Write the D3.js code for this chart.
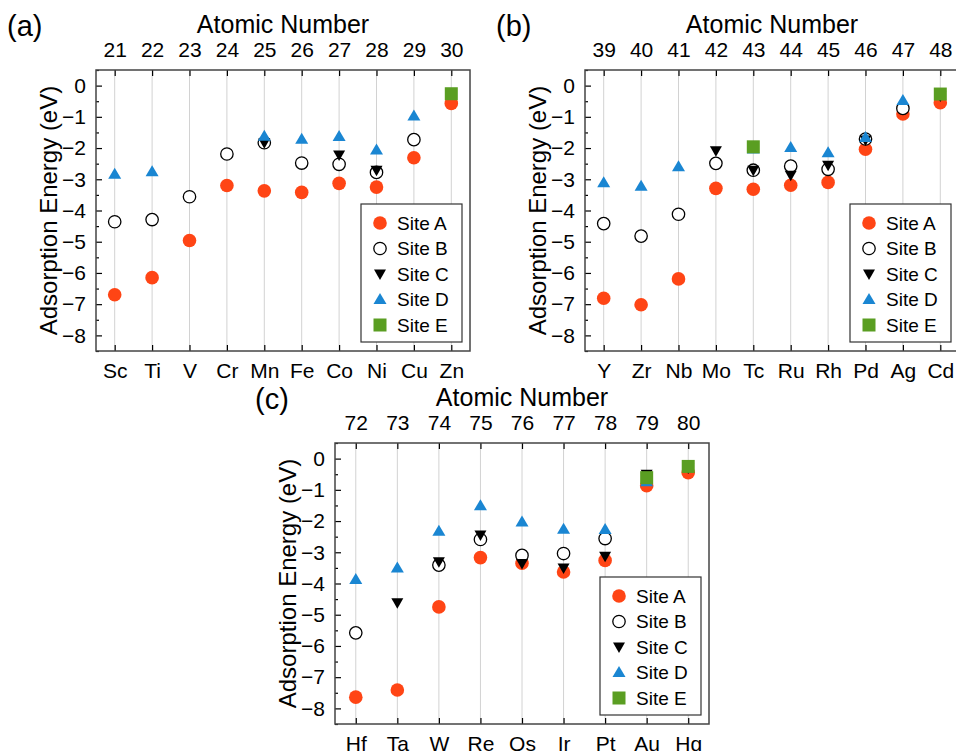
<!DOCTYPE html>
<html>
<head>
<meta charset="utf-8">
<script src="https://cdn.jsdelivr.net/npm/d3@7"></script>
<style>
  body { margin: 0; background: #fff; }
  svg { font-family: Arial, "Liberation Sans", sans-serif; }
</style>
</head>
<body>
<div id="chart"></div>
<script>
/* Adsorption energies of transition metals, three panels */

const sites = ["Site A", "Site B", "Site C", "Site D", "Site E"];
const siteColors = ["#ff4515", "#ffffff", "#000000", "#1a86d2", "#5a9e22"];
const yTicks = [0, -1, -2, -3, -4, -5, -6, -7, -8];

// panel (a) 3d metals
const elementsA = ["Sc", "Ti", "V", "Cr", "Mn", "Fe", "Co", "Ni", "Cu", "Zn"];
const numbersA = [21, 22, 23, 24, 25, 26, 27, 28, 29, 30];
const siteA_a = [-6.70, -6.15, -4.96, -3.20, -3.37, -3.42, -3.13, -3.25, -2.31, -0.57];
const siteB_a = [-4.36, -4.29, -3.56, -2.19, -1.83, -2.48, -2.52, -2.78, -1.73, null];
const siteC_a = [null, null, null, null, -1.83, null, -2.22, -2.71, null, null];
const siteD_a = [-2.84, -2.76, null, null, -1.62, -1.72, -1.63, -2.06, -0.97, null];
const siteE_a = [null, null, null, null, null, null, null, null, null, -0.26];

// panel (b) 4d metals
const elementsB = ["Y", "Zr", "Nb", "Mo", "Tc", "Ru", "Rh", "Pd", "Ag", "Cd"];
const numbersB = [39, 40, 41, 42, 43, 44, 45, 46, 47, 48];
const siteA_b = [-6.81, -7.02, -6.19, -3.29, -3.32, -3.19, -3.10, -2.04, -0.91, -0.55];
const siteB_b = [-4.42, -4.82, -4.12, -2.49, -2.71, -2.58, -2.68, -1.71, -0.73, null];
const siteC_b = [null, null, null, -2.09, -2.71, -2.87, -2.55, -1.74, null, -0.33];
const siteD_b = [-3.11, -3.22, -2.60, null, -2.03, -1.98, -2.15, -1.66, -0.48, null];
const siteE_b = [null, null, null, null, -1.96, null, null, null, null, -0.27];

// panel (c) 5d metals
const elementsC = ["Hf", "Ta", "W", "Re", "Os", "Ir", "Pt", "Au", "Hg"];
const numbersC = [72, 73, 74, 75, 76, 77, 78, 79, 80];
const siteA_c = [-7.64, -7.41, -4.75, -3.17, -3.35, -3.63, -3.26, -0.87, -0.45];
const siteB_c = [-5.58, null, -3.41, -2.59, -3.10, -3.04, -2.56, null, null];
const siteC_c = [null, -4.62, -3.30, -2.45, -3.36, -3.50, -3.13, -0.50, -0.30];
const siteD_c = [-3.87, -3.50, -2.33, -1.51, -2.03, -2.26, -2.27, -0.74, null];
const siteE_c = [null, null, null, null, null, null, null, -0.61, -0.25];

const width = 956, height = 751;

const svg = d3.select("#chart")
    .append("svg")
    .attr("width", width)
    .attr("height", height)
    .attr("viewBox", [0, 0, width, height]);

function marker(g, i, x, y) {
    if (i == 0) {
        g.append("circle").attr("cx", x).attr("cy", y).attr("r", 6.8)
            .attr("fill", siteColors[0]);
    } else if (i == 1) {
        g.append("circle").attr("cx", x).attr("cy", y).attr("r", 6.2)
            .attr("fill", "#fff").attr("stroke", "#000").attr("stroke-width", 1.3);
    } else if (i == 2) {
        g.append("path").attr("transform", `translate(${x},${y})`)
            .attr("d", "M-6,-4.5L6,-4.5L0,6Z").attr("fill", siteColors[2]);
    } else if (i == 3) {
        g.append("path").attr("transform", `translate(${x},${y})`)
            .attr("d", "M-6.5,4.5L6.5,4.5L0,-6.5Z").attr("fill", siteColors[3]);
    } else {
        g.append("rect").attr("x", x - 6.5).attr("y", y - 6.5)
            .attr("width", 13).attr("height", 13).attr("fill", siteColors[4]);
    }
}

function drawPanel(p) {
    const w = 374, h = 281;
    const g = svg.append("g").attr("transform", `translate(${p.left},${p.top})`);

    let x = d3.scaleLinear()
        .domain([p.numbers[0] - 0.5, p.numbers[p.numbers.length - 1] + 0.5])
        .range([0, w]);

    let y = d3.scaleLinear()
        .domain([-8.5, 0.5])
        .range([h, 0]);

    // vertical grid
    g.append("g")
        .selectAll("line")
        .data(p.numbers)
        .join("line")
        .attr("x1", d => x(d)).attr("x2", d => x(d))
        .attr("y1", 0).attr("y2", h)
        .attr("stroke", "#d2d2d2").attr("stroke-width", 1);

    // top axis, atomic number
    let top = g.append("g")
        .call(d3.axisTop(x).tickValues(p.numbers).tickSize(-6).tickPadding(13).tickFormat(d3.format("d")));
    top.selectAll("text").attr("font-size", 21).attr("fill", "#000");

    // bottom axis, element symbols
    let bottom = g.append("g")
        .attr("transform", `translate(0,${h})`)
        .call(d3.axisBottom(x).tickValues(p.numbers).tickSize(-6).tickPadding(12)
            .tickFormat((d, i) => p.elements[i]));
    bottom.selectAll("text").attr("font-size", 21).attr("fill", "#000");

    // left axis with minor ticks
    let minor = d3.range(-8.5, 0.6, 0.5).filter(v => Math.abs(v % 1) > 0.1);
    g.append("g")
        .call(d3.axisLeft(y).tickValues(minor).tickSize(-3).tickFormat(""));
    let left = g.append("g")
        .call(d3.axisLeft(y).tickValues(yTicks).tickSize(-6).tickPadding(10)
            .tickFormat(d => d == 0 ? "0" : "\u2212" + Math.abs(d)));
    left.selectAll("text").attr("font-size", 21).attr("fill", "#000");

    g.selectAll(".domain").remove();
    g.selectAll(".tick line").attr("stroke", "#000").attr("stroke-width", 1.2);

    g.append("rect")
        .attr("width", w).attr("height", h)
        .attr("fill", "none").attr("stroke", "#444").attr("stroke-width", 1.5);

    // points, drawn A to E
    let pts = g.append("g");
    p.series.forEach((vals, i) => {
        vals.forEach((v, j) => {
            if (v != null) marker(pts, i, x(p.numbers[j]), y(v));
        });
    });

    // legend
    let lw = 101, lh = 138;
    let lg = g.append("g").attr("transform", `translate(${w - lw - 8},${h - lh - 9})`);
    lg.append("rect").attr("width", lw).attr("height", lh)
        .attr("fill", "#fff").attr("stroke", "#333").attr("stroke-width", 1.2);
    sites.forEach((s, i) => {
        let yy = 19 + i * 25.5;
        marker(lg, i, 19, yy);
        lg.append("text").attr("x", 36).attr("y", yy)
            .attr("dominant-baseline", "central")
            .attr("font-size", 19)
            .text(s);
    });

    // titles
    g.append("text")
        .attr("x", w / 2).attr("y", -37)
        .attr("text-anchor", "middle")
        .attr("font-size", 25)
        .text("Atomic Number");

    g.append("text")
        .attr("transform", `translate(-39,${h / 2}) rotate(-90)`)
        .attr("text-anchor", "middle")
        .attr("font-size", 24)
        .text("Adsorption Energy (eV)");

    svg.append("text")
        .attr("x", p.labelX).attr("y", p.labelY)
        .attr("font-size", 29)
        .text(p.label);
}

drawPanel({ left: 96, top: 70, numbers: numbersA, elements: elementsA,
    series: [siteA_a, siteB_a, siteC_a, siteD_a, siteE_a], label: "(a)", labelX: 7, labelY: 36 });
drawPanel({ left: 585, top: 70, numbers: numbersB, elements: elementsB,
    series: [siteA_b, siteB_b, siteC_b, siteD_b, siteE_b], label: "(b)", labelX: 496, labelY: 36 });
drawPanel({ left: 335, top: 443, numbers: numbersC, elements: elementsC,
    series: [siteA_c, siteB_c, siteC_c, siteD_c, siteE_c], label: "(c)", labelX: 255, labelY: 409 });
</script>
</body>
</html>
